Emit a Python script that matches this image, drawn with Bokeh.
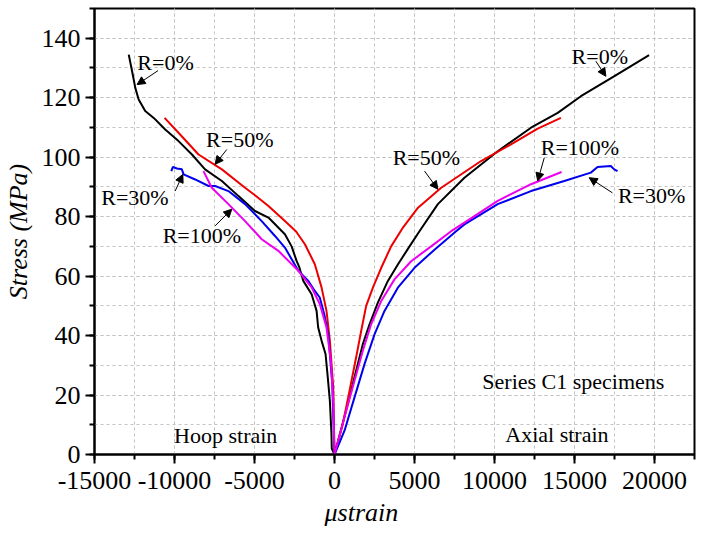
from bokeh.plotting import figure
from bokeh.models import (Range1d, SingleIntervalTicker, Label, Arrow, NormalHead,
                          CustomJSTickFormatter, Title)
from bokeh.embed import file_html
from bokeh.resources import INLINE

FONT = "Liberation Serif"

# Hoop strain curves (negative microstrain) and axial strain curves (positive), stress in MPa
hoop_r0_x = [-12860, -12610, -12450, -12240, -11830, -11300, -10580, -9750, -8910, -8090, -7040, -6000,
             -4970, -4130, -3100, -2680, -2370, -2200, -1950, -1430, -1120, -1020, -810, -560, -440, -290, -190, -170, 0]
hoop_r0_y = [134.5, 127.8, 123.3, 119.4, 115.5, 113.2, 109.3, 105.4, 100.9, 95.9, 92.0, 86.9,
             81.9, 79.7, 74.1, 70.0, 65.1, 63.0, 58.4, 53.9, 48.3, 42.7, 38.3, 33.8, 27.1, 18.1, 6.9, 2.0, 0]

hoop_r50_x = [-10620, -9750, -8500, -7040, -5590, -4970, -4130, -3100, -2400, -1850, -1230, -810, -500, -290, -80, 0]
hoop_r50_y = [113.2, 108.2, 100.9, 95.9, 89.7, 87.2, 83.6, 78.5, 75.0, 70.7, 64.0, 56.2, 48.3, 38.3, 22.6, 0]

hoop_r30_x = [-10200, -10100, -9850, -9540, -9430, -8710, -7870, -7460, -6630, -5590, -4550, -3720, -3100,
              -2260, -1640, -1230, -920, -640, -390, -140, 0]
hoop_r30_y = [95.3, 96.7, 96.2, 95.9, 94.2, 92.5, 90.3, 90.3, 88.6, 84.2, 78.5, 73.5, 69.6,
              61.8, 58.4, 55.0, 52.8, 47.2, 40.5, 23.7, 0]

hoop_r100_x = [-8190, -7670, -6630, -5590, -4550, -3510, -2260, -1430, -920, -500, -230, -80, 0]
hoop_r100_y = [95.3, 89.7, 84.2, 78.5, 72.4, 68.5, 61.8, 56.2, 50.6, 42.7, 31.6, 18.1, 0]

axial_r0_x = [0, 830, 1350, 1770, 2190, 2710, 3330, 3960, 4690, 5310, 6460, 8120, 10200, 12280, 13950,
              15400, 17470, 19660]
axial_r0_y = [0, 17.0, 28.2, 37.1, 43.8, 51.1, 58.3, 63.9, 70.0, 75.1, 84.2, 93.1, 102.0, 109.9, 114.9,
              120.5, 127.2, 134.3]

axial_r50_x = [0, 520, 940, 1350, 1670, 1980, 2400, 2920, 3540, 4300, 5220, 6670, 9160, 11030, 12700, 14150]
axial_r50_y = [0, 10.3, 21.5, 32.6, 41.6, 50.0, 56.1, 62.8, 70.0, 76.5, 83.0, 89.7, 98.7, 104.3, 109.6, 113.2]

axial_r100_x = [0, 625, 1250, 1770, 2290, 2920, 3750, 4790, 6040, 7290, 8120, 10200, 12280, 14190]
axial_r100_y = [0, 12.5, 24.8, 34.9, 43.8, 51.6, 58.9, 65.0, 70.0, 75.1, 78.0, 85.3, 90.9, 95.0]

axial_r30_x = [0, 625, 1250, 1875, 2500, 3125, 3960, 5000, 6250, 7600, 8120, 10200, 12280, 14360, 16020,
               16440, 17270, 17480, 17690]
axial_r30_y = [0, 8.0, 19.2, 30.4, 40.4, 48.3, 56.1, 62.8, 68.9, 75.1, 77.4, 84.2, 88.6, 92.0, 94.8,
               96.7, 97.0, 95.9, 95.3]

p = figure(width=696, height=533, output_backend="svg", toolbar_location=None,
           x_range=Range1d(-15000, 22500), y_range=Range1d(0, 150),
           min_border_left=92, min_border_right=2, min_border_top=8, min_border_bottom=79)
p.background_fill_color = "white"
p.border_fill_color = "white"
p.outline_line_color = "black"
p.outline_line_width = 2

p.xaxis.ticker = SingleIntervalTicker(interval=5000, num_minor_ticks=2)
p.yaxis.ticker = SingleIntervalTicker(interval=20, num_minor_ticks=2)
p.xaxis.formatter = CustomJSTickFormatter(code="return tick.toString();")
for ax in (p.xaxis, p.yaxis):
    ax.axis_line_width = 2
    ax.major_tick_line_width = 2
    ax.minor_tick_line_width = 2
    ax.major_tick_out = 9
    ax.major_tick_in = 0
    ax.minor_tick_out = 5
    ax.minor_tick_in = 0
    ax.major_label_text_font = FONT
    ax.major_label_text_font_size = "26px"
    ax.major_label_text_color = "black"
p.xaxis.major_label_standoff = 8
p.yaxis.major_label_standoff = 5

for g in (p.xgrid, p.ygrid):
    g.grid_line_color = "#c4c4c4"
    g.grid_line_dash = "3 3"
    g.grid_line_width = 1
    g.minor_grid_line_color = "#c4c4c4"
    g.minor_grid_line_dash = "3 3"
    g.minor_grid_line_width = 1

p.yaxis.axis_label = "Stress (MPa)"
p.yaxis.axis_label_text_font = FONT
p.yaxis.axis_label_text_font_style = "italic"
p.yaxis.axis_label_text_font_size = "26px"
p.yaxis.axis_label_text_color = "black"
p.yaxis.axis_label_standoff = 6

series = [
    (hoop_r0_x, hoop_r0_y, "black"), (hoop_r50_x, hoop_r50_y, "#ee0000"),
    (hoop_r30_x, hoop_r30_y, "#0000ee"), (hoop_r100_x, hoop_r100_y, "#ee00ee"),
    (axial_r0_x, axial_r0_y, "black"), (axial_r50_x, axial_r50_y, "#ee0000"),
    (axial_r30_x, axial_r30_y, "#0000ee"), (axial_r100_x, axial_r100_y, "#ee00ee"),
]
for xs, ys, c in series:
    p.line(xs, ys, line_color=c, line_width=2)

# annotation labels and their arrows
label_text = ["R=0%", "R=50%", "R=30%", "R=100%", "R=0%", "R=50%", "R=100%", "R=30%"]
label_x = [-10560, -5920, -12470, -8290, 16580, 5740, 15340, 19820]
label_y = [132.0, 106.0, 86.3, 73.5, 133.9, 100.0, 103.2, 87.0]
arrow_x0 = [-11030, -6730, -9960, -7460, 16330, 5630, 13110, 17370]
arrow_y0 = [129.1, 102.6, 88.6, 76.9, 132.3, 95.3, 99.8, 88.0]
arrow_x1 = [-12340, -7460, -9480, -6420, 16960, 6460, 12700, 15920]
arrow_y1 = [124.4, 97.6, 94.2, 82.5, 127.2, 89.2, 92.0, 93.1]

for t, x, y in zip(label_text, label_x, label_y):
    p.add_layout(Label(x=x, y=y, text=t, text_font=FONT, text_font_size="22px",
                       text_align="center", text_baseline="middle", text_color="black"))
for xa, ya, xb, yb in zip(arrow_x0, arrow_y0, arrow_x1, arrow_y1):
    p.add_layout(Arrow(x_start=xa, y_start=ya, x_end=xb, y_end=yb, line_width=1,
                       line_color="black",
                       end=NormalHead(size=8, fill_color="black", line_color="black")))

notes = [("Series C1 specimens", 14930, 24.5), ("Axial strain", 13900, 6.7), ("Hoop strain", -6800, 6.4)]
for t, x, y in notes:
    p.add_layout(Label(x=x, y=y, text=t, text_font=FONT, text_font_size="22px",
                       text_align="center", text_baseline="middle", text_color="black"))

p.add_layout(Title(text="\u03bcstrain", align="left", offset=230, standoff=8,
                   text_font=FONT, text_font_size="26px", text_font_style="italic",
                   text_color="black"), "below")

open("out.html", "w").write(file_html(p, INLINE))
